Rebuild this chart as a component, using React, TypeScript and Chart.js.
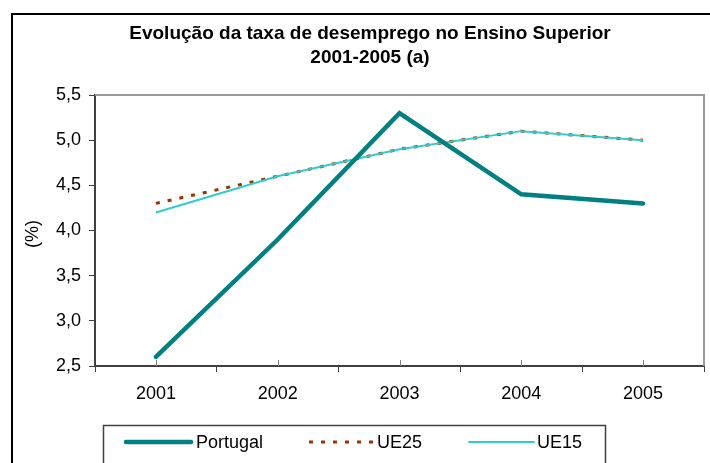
import React, { useEffect, useRef } from "react";
import { Chart, registerables } from "chart.js";

Chart.register(...registerables);

const years = ["2001", "2002", "2003", "2004", "2005"];
const portugal = [2.6, 3.9, 5.3, 4.4, 4.3];
const ue25 = [4.3, 4.6, 4.9, 5.1, 5.0];
const ue15 = [4.2, 4.6, 4.9, 5.1, 5.0];
const seriesNames = ["Portugal", "UE25", "UE15"];
const titleLines = ["Evolução da taxa de desemprego no Ensino Superior", "2001-2005 (a)"];
const yAxisLabel = "(%)";
const yMin = 2.5;
const yMax = 5.5;
const yStep = 0.5;

const FONT = "'Liberation Sans', Arial, sans-serif";

const decorPlugin = {
  id: "decor",
  beforeDatasetsDraw(chart: any) {
    const { ctx, chartArea } = chart;
    ctx.save();
    ctx.strokeStyle = "#9a9a9a";
    ctx.lineWidth = 2;
    ctx.beginPath();
    ctx.moveTo(chartArea.left, chartArea.top);
    ctx.lineTo(chartArea.right, chartArea.top);
    ctx.lineTo(chartArea.right, chartArea.bottom);
    ctx.stroke();
    const xs = chart.scales.x;
    ctx.strokeStyle = "#808080";
    ctx.lineWidth = 1;
    for (let i = 0; i < years.length; i++) {
      const x = Math.round(xs.getPixelForValue(i)) + 0.5;
      ctx.beginPath();
      ctx.moveTo(x, chartArea.bottom - 6);
      ctx.lineTo(x, chartArea.bottom);
      ctx.stroke();
    }
    ctx.restore();
  },
  afterDraw(chart: any) {
    const { ctx } = chart;
    ctx.save();
    ctx.strokeStyle = "#000000";
    ctx.lineWidth = 2;
    ctx.strokeRect(12, 14, 730, 480);
    ctx.fillStyle = "#000000";
    ctx.font = "bold 19px " + FONT;
    ctx.textAlign = "center";
    ctx.textBaseline = "middle";
    ctx.fillText(titleLines[0], 370, 34);
    ctx.fillText(titleLines[1], 370, 58);
    ctx.font = "18px " + FONT;
    ctx.save();
    ctx.translate(33, 234);
    ctx.rotate(-Math.PI / 2);
    ctx.fillText(yAxisLabel, 0, 0);
    ctx.restore();
    ctx.strokeStyle = "#404040";
    ctx.lineWidth = 1.5;
    ctx.strokeRect(103.5, 425.5, 502, 60);
    const sampleX = [126, 309, 469];
    const textX = [196, 377, 537];
    const ly = 442;
    [0, 1, 2].forEach((di, k) => {
      const ds = chart.data.datasets[di];
      ctx.save();
      ctx.strokeStyle = ds.borderColor;
      ctx.lineWidth = ds.borderWidth;
      ctx.lineCap = ds.borderDash ? "butt" : "round";
      ctx.setLineDash(ds.borderDash || []);
      ctx.beginPath();
      ctx.moveTo(sampleX[k], ly);
      ctx.lineTo(sampleX[k] + 65, ly);
      ctx.stroke();
      ctx.restore();
      ctx.fillStyle = "#000000";
      ctx.font = "18px " + FONT;
      ctx.textAlign = "left";
      ctx.textBaseline = "middle";
      ctx.fillText(ds.label, textX[k], ly + 1);
    });
    ctx.restore();
  },
};

export default function App() {
  const ref = useRef<HTMLCanvasElement | null>(null);
  useEffect(() => {
    if (!ref.current) return;
    Chart.defaults.font.family = FONT;
    const chart = new Chart(ref.current, {
      type: "line",
      data: {
        labels: years,
        datasets: [
          {
            label: seriesNames[0],
            data: portugal,
            borderColor: "#008080",
            backgroundColor: "#008080",
            borderWidth: 4.5,
            pointRadius: 0,
            tension: 0,
            order: 0,
            borderCapStyle: "round",
          },
          {
            label: seriesNames[1],
            data: ue25,
            borderColor: "#993300",
            backgroundColor: "#993300",
            borderWidth: 3,
            borderDash: [4, 8],
            pointRadius: 0,
            tension: 0,
            order: 2,
          },
          {
            label: seriesNames[2],
            data: ue15,
            borderColor: "#33CCCC",
            backgroundColor: "#33CCCC",
            borderWidth: 2,
            pointRadius: 0,
            tension: 0,
            order: 1,
          },
        ],
      },
      options: {
        responsive: false,
        animation: false,
        layout: { padding: { top: 95, left: 0, right: 6, bottom: 57 } },
        plugins: {
          legend: { display: false },
          title: { display: false },
          tooltip: { enabled: false },
        },
        scales: {
          x: {
            offset: true,
            grid: {
              offset: true,
              drawOnChartArea: false,
              drawTicks: true,
              tickLength: 6,
              color: "#404040",
              lineWidth: 1,
            },
            border: { display: true, color: "#404040", width: 2 },
            ticks: {
              color: "#000000",
              font: { size: 18, family: FONT },
              padding: 11,
              maxRotation: 0,
              autoSkip: false,
            },
            afterFit(scale: any) {
              scale.height = 40;
              scale.paddingLeft = 0;
              scale.paddingRight = 0;
            },
          },
          y: {
            min: yMin,
            max: yMax,
            grid: {
              drawOnChartArea: false,
              drawTicks: true,
              tickLength: 6,
              color: "#404040",
              lineWidth: 1,
            },
            border: { display: true, color: "#404040", width: 2 },
            ticks: {
              stepSize: yStep,
              color: "#000000",
              font: { size: 18, family: FONT },
              padding: 8,
              callback: (v: any) => Number(v).toFixed(1).replace(".", ","),
            },
            afterFit(scale: any) {
              scale.width = 95;
              scale.paddingTop = 0;
              scale.paddingBottom = 0;
            },
          },
        },
      },
      plugins: [decorPlugin],
    });
    return () => chart.destroy();
  }, []);
  return (
    <div style={{ position: "absolute", left: 0, top: 0, width: 710, height: 463, background: "#fff" }}>
      <canvas ref={ref} width={710} height={463} style={{ display: "block" }} />
    </div>
  );
}
